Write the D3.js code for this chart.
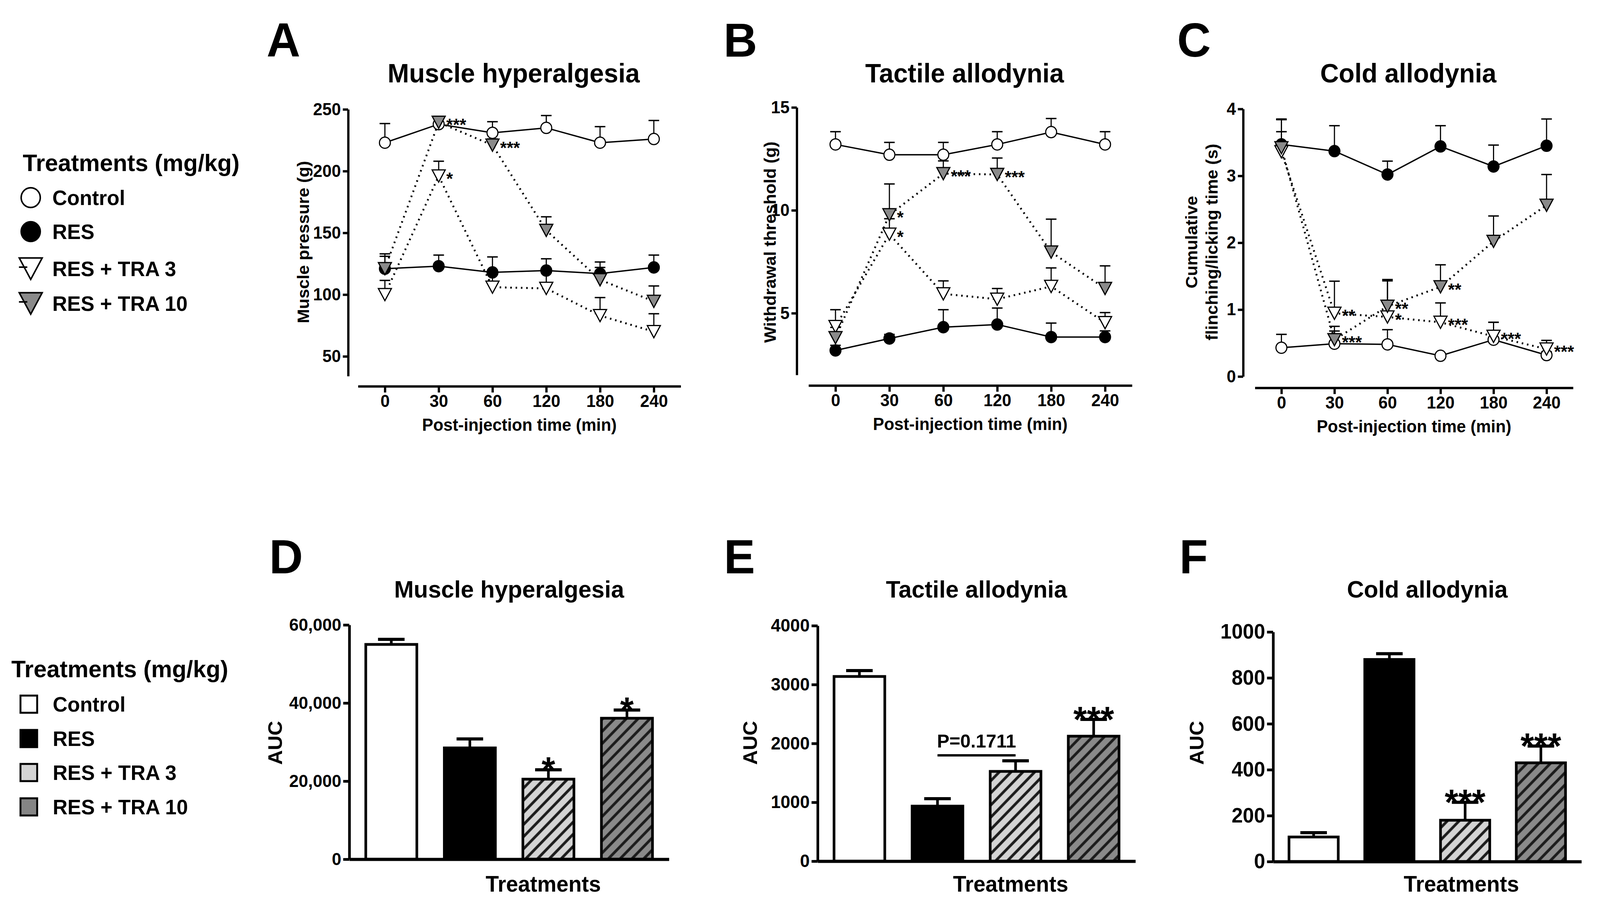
<!DOCTYPE html>
<html>
<head>
<meta charset="utf-8">
<script src="https://cdn.jsdelivr.net/npm/d3@7"></script>
<style>
  html, body { margin: 0; padding: 0; background: #fff; overflow: hidden; }
  svg { display: block; width: 100vw; height: 100vh; }
  text { font-family: "Liberation Sans", Arial, sans-serif; font-weight: bold; fill: #000; }
</style>
</head>
<body>
<svg id="chart" viewBox="0 0 4219 2330" preserveAspectRatio="none"></svg>
<script>
// ---- data ----
const timeLabels = ["0", "30", "60", "120", "180", "240"];
const groupNames = ["Control", "RES", "RES + TRA 3", "RES + TRA 10"];

// A: muscle pressure (g), mean and SEM
const muscleControl = [223, 238, 231, 235, 223, 226];
const muscleControlSem = [15.5, 6, 9, 10, 13, 15];
const muscleRes = [121, 123, 118, 119.5, 117, 122];
const muscleResSem = [10, 9, 12.5, 9.5, 9.4, 10];
const muscleTra3 = [100, 196, 106, 105, 83, 70];
const muscleTra3Sem = [11.5, 12, 12, 14, 14.6, 14.5];
const muscleTra10 = [121, 239.5, 221, 152, 112, 94.5];
const muscleTra10Sem = [12, 4.5, 5, 11, 10, 12.5];
const muscleStars = [[3, 1, "***"], [3, 2, "***"], [2, 1, "*"]];

// B: withdrawal threshold (g)
const tactileControl = [13.2, 12.7, 12.7, 13.2, 13.8, 13.2];
const tactileControlSem = [0.62, 0.6, 0.6, 0.62, 0.66, 0.62];
const tactileRes = [3.19, 3.77, 4.32, 4.45, 3.84, 3.84];
const tactileResSem = [0.25, 0.2, 0.85, 0.8, 0.68, 0.3];
const tactileTra3 = [4.35, 8.84, 5.94, 5.68, 6.3, 4.54];
const tactileTra3Sem = [0.82, 0.75, 0.63, 0.52, 0.9, 0.49];
const tactileTra10 = [3.81, 9.78, 11.78, 11.74, 7.97, 6.2];
const tactileTra10Sem = [0.5, 1.5, 0.62, 0.8, 1.6, 1.1];
const tactileStars = [[3, 1, "*"], [2, 1, "*"], [3, 2, "***"], [3, 3, "***"]];

// C: cumulative flinching/licking time (s)
const coldControl = [0.43, 0.49, 0.48, 0.31, 0.55, 0.32];
const coldControlSem = [0.2, 0.19, 0.22, 0.03, 0.26, 0.05];
const coldRes = [3.47, 3.37, 3.02, 3.44, 3.14, 3.45];
const coldResSem = [0.38, 0.38, 0.2, 0.31, 0.32, 0.4];
const coldTra3 = [3.36, 0.945, 0.89, 0.81, 0.6, 0.41];
const coldTra3Sem = [0.3, 0.48, 0.54, 0.29, 0.21, 0.13];
const coldTra10 = [3.42, 0.55, 1.05, 1.34, 2.02, 2.56];
const coldTra10Sem = [0.42, 0.2, 0.4, 0.33, 0.38, 0.46];
const coldStars = [[2, 1, "**"], [3, 1, "***"], [3, 2, "**"], [2, 2, "*"],
                   [3, 3, "**"], [2, 3, "***"], [2, 4, "***"], [2, 5, "***"]];

// D-F: AUC per treatment
const muscleAuc = [55000, 28500, 20500, 36100];
const muscleAucSem = [1300, 2300, 2400, 2100];
const muscleAucStars = ["", "", "*", "*"];
const tactileAuc = [3137, 935, 1525, 2123];
const tactileAucSem = [100, 126, 180, 285];
const tactileAucStars = ["", "", "", "***"];
const coldAuc = [107, 880, 180, 430];
const coldAucSem = [19, 25, 78, 73];
const coldAucStars = ["", "", "***", "***"];
const tactileBracket = ["RES", "RES + TRA 3", 1798, "P=0.1711"];

// ---- drawing ----
const svg = d3.select("#chart");
svg.append("rect").attr("width", 4219).attr("height", 2330).attr("fill", "#fff");

const defs = svg.append("defs");
function hatch(id, bg, ink) {
  const p = defs.append("pattern").attr("id", id)
    .attr("patternUnits", "userSpaceOnUse")
    .attr("width", 22).attr("height", 22)
    .attr("patternTransform", "rotate(45)");
  p.append("rect").attr("width", 22).attr("height", 22).attr("fill", bg);
  p.append("line").attr("x1", 5).attr("x2", 5).attr("y1", 0).attr("y2", 22)
    .attr("stroke", ink).attr("stroke-width", 7);
}
hatch("hatchLight", "#d4d4d4", "#1c1c1c");
hatch("hatchDark", "#8a8a8a", "#1c1c1c");

const markerStyle = {
  "Control":      { shape: "circle",   fill: "#fff",    dash: null },
  "RES":          { shape: "circle",   fill: "#000",    dash: null },
  "RES + TRA 3":  { shape: "triangle", fill: "#fff",    dash: "4,10" },
  "RES + TRA 10": { shape: "triangle", fill: "#8a8a8a", dash: "4,10" }
};
const barFill = {
  "Control": "#fff", "RES": "#000",
  "RES + TRA 3": "url(#hatchLight)", "RES + TRA 10": "url(#hatchDark)"
};

function marker(g, st, cx, cy, s, sw) {
  if (st.shape === "circle") {
    g.append("circle").attr("cx", cx).attr("cy", cy).attr("r", s * 0.45)
      .attr("fill", st.fill).attr("stroke", "#000").attr("stroke-width", sw);
  } else {
    const w = s * 1.08, h = s * 0.98;
    g.append("path")
      .attr("d", `M${cx - w / 2},${cy - h / 2}L${cx + w / 2},${cy - h / 2}L${cx},${cy + h / 2}Z`)
      .attr("fill", st.fill).attr("stroke", "#000").attr("stroke-width", sw)
      .attr("stroke-linejoin", "miter");
  }
}

function styleAxis(a, size, width) {
  a.selectAll("path, line").attr("stroke", "#000").attr("stroke-width", width);
  a.selectAll("text").attr("font-size", size).attr("font-weight", "bold")
    .attr("font-family", '"Liberation Sans", Arial, sans-serif').attr("fill", "#000");
}

function label(g, x, y, txt, size, anchor, rot) {
  const t = g.append("text").attr("font-size", size).attr("text-anchor", anchor || "middle").text(txt);
  if (rot) t.attr("transform", `translate(${x},${y}) rotate(-90)`);
  else t.attr("x", x).attr("y", y);
  return t;
}

function linePanel(p) {
  const g = svg.append("g");
  const x = d3.scalePoint().domain(timeLabels).range([p.xStart, p.xEnd]).padding(0.5);
  const y = d3.scaleLinear().domain(p.yDomain).range([p.yBottom, p.yTop]);

  const ya = g.append("g").attr("transform", `translate(${p.yAxisX},0)`)
    .call(d3.axisLeft(y).tickValues(p.yTicks).tickFormat(d3.format("d"))
      .tickSize(14).tickPadding(5).tickSizeOuter(0));
  styleAxis(ya, 44, 6);
  const xa = g.append("g").attr("transform", `translate(0,${p.xAxisY})`)
    .call(d3.axisBottom(x).tickSize(16).tickPadding(6).tickSizeOuter(0));
  styleAxis(xa, 44, 6);

  const line = d3.line().x((d, i) => x(timeLabels[i])).y(d => y(d));
  p.series.forEach(s => {
    const st = markerStyle[s.name];
    g.append("path").datum(s.mean).attr("d", line).attr("fill", "none")
      .attr("stroke", "#000").attr("stroke-width", st.dash ? 5 : 3.5)
      .attr("stroke-dasharray", st.dash);
  });
  p.series.forEach(s => {
    s.mean.forEach((m, i) => {
      const cx = x(timeLabels[i]), y0 = y(m), y1 = y(m + s.sem[i]);
      g.append("line").attr("x1", cx).attr("x2", cx).attr("y1", y0).attr("y2", y1)
        .attr("stroke", "#000").attr("stroke-width", 3);
      g.append("line").attr("x1", cx - 14).attr("x2", cx + 14).attr("y1", y1).attr("y2", y1)
        .attr("stroke", "#000").attr("stroke-width", 3.5);
    });
  });
  p.series.forEach(s => {
    s.mean.forEach((m, i) => marker(g, markerStyle[s.name], x(timeLabels[i]), y(m), 32, 3));
  });
  p.stars.forEach(([gi, ti, txt]) => {
    const s = p.series[gi];
    label(g, x(timeLabels[ti]) + 20, y(s.mean[ti]) + 22, txt, 45, "start");
  });

  label(g, p.letterX, 145, p.letter, 123, "start");
  label(g, (p.xStart + p.xEnd) / 2 - 15, 211, p.title, 68);
  label(g, (p.xStart + p.xEnd) / 2, p.xAxisY + 114, "Post-injection time (min)", 44);
  p.yLabel.forEach((t, i) => label(g, p.yLabelX[i], 620, t, 44, "middle", true));
}

function barPanel(p) {
  const g = svg.append("g");
  const x = d3.scaleBand().domain(groupNames).range([p.yAxisX, p.xEnd])
    .paddingInner(0.35).paddingOuter(0.21);
  const y = d3.scaleLinear().domain(p.yDomain).range([p.yBottom, p.yTop]);
  const bw = x.bandwidth();

  groupNames.forEach((n, i) => {
    const cx = x(n) + bw / 2, top = y(p.mean[i]), et = y(p.mean[i] + p.sem[i]);
    g.append("line").attr("x1", cx).attr("x2", cx).attr("y1", top).attr("y2", et)
      .attr("stroke", "#000").attr("stroke-width", 7);
    g.append("line").attr("x1", cx - 35).attr("x2", cx + 35).attr("y1", et).attr("y2", et)
      .attr("stroke", "#000").attr("stroke-width", 8);
    g.append("rect").attr("x", x(n)).attr("y", top).attr("width", bw)
      .attr("height", p.yBottom - top).attr("fill", barFill[n])
      .attr("stroke", "#000").attr("stroke-width", 7);
    if (p.stars[i]) label(g, cx, et + 32, p.stars[i], 92);
  });

  const ya = g.append("g").attr("transform", `translate(${p.yAxisX},0)`)
    .call(d3.axisLeft(y).tickValues(p.yTicks).tickFormat(p.fmt).tickSize(16).tickPadding(5).tickSizeOuter(0));
  styleAxis(ya, p.tickFont, 7);
  const xa = g.append("g").attr("transform", `translate(0,${p.yBottom})`)
    .call(d3.axisBottom(x).tickValues([]).tickSizeOuter(0));
  styleAxis(xa, 44, 8);

  if (p.bracket) {
    const [a, b, v, txt] = p.bracket;
    const by = y(v);
    g.append("line").attr("x1", x(a) + bw / 2).attr("x2", x(b) + bw / 2)
      .attr("y1", by).attr("y2", by).attr("stroke", "#000").attr("stroke-width", 6);
    label(g, (x(a) + x(b) + bw) / 2, by - 20, txt, 49);
  }

  label(g, p.letterX, 1468, p.letter, 123, "start");
  label(g, (p.yAxisX + p.xEnd) / 2, 1530, p.title, 62);
  label(g, (p.yAxisX + p.xEnd) / 2 + 90, 2283, "Treatments", 57);
  label(g, p.aucX, 1902, "AUC", 52, "middle", true);
}

function series(c, cs, r, rs, t3, t3s, t10, t10s) {
  return [
    { name: "Control", mean: c, sem: cs },
    { name: "RES", mean: r, sem: rs },
    { name: "RES + TRA 3", mean: t3, sem: t3s },
    { name: "RES + TRA 10", mean: t10, sem: t10s }
  ];
}

linePanel({
  letter: "A", letterX: 703, title: "Muscle hyperalgesia",
  yAxisX: 918, yTop: 280, yBottom: 963, xAxisY: 989, xStart: 944, xEnd: 1795,
  yDomain: [34, 250], yTicks: [50, 100, 150, 200, 250],
  yLabel: ["Muscle pressure (g)"], yLabelX: [815],
  series: series(muscleControl, muscleControlSem, muscleRes, muscleResSem,
                 muscleTra3, muscleTra3Sem, muscleTra10, muscleTra10Sem),
  stars: muscleStars
});
linePanel({
  letter: "B", letterX: 1908, title: "Tactile allodynia",
  yAxisX: 2101, yTop: 275, yBottom: 960, xAxisY: 987, xStart: 2132, xEnd: 2985,
  yDomain: [2, 15], yTicks: [5, 10, 15],
  yLabel: ["Withdrawal threshold (g)"], yLabelX: [2046],
  series: series(tactileControl, tactileControlSem, tactileRes, tactileResSem,
                 tactileTra3, tactileTra3Sem, tactileTra10, tactileTra10Sem),
  stars: tactileStars
});
linePanel({
  letter: "C", letterX: 3104, title: "Cold allodynia",
  yAxisX: 3278, yTop: 279, yBottom: 964, xAxisY: 993, xStart: 3309, xEnd: 4148,
  yDomain: [0, 4], yTicks: [0, 1, 2, 3, 4],
  yLabel: ["Cumulative", "flinching/licking time (s)"], yLabelX: [3157, 3211],
  series: series(coldControl, coldControlSem, coldRes, coldResSem,
                 coldTra3, coldTra3Sem, coldTra10, coldTra10Sem),
  stars: coldStars
});

barPanel({
  letter: "D", letterX: 710, title: "Muscle hyperalgesia",
  yAxisX: 921, yTop: 1600, yBottom: 2200, xEnd: 1764,
  yDomain: [0, 60000], yTicks: [0, 20000, 40000, 60000], fmt: d3.format(","), tickFont: 45,
  mean: muscleAuc, sem: muscleAucSem, stars: muscleAucStars, aucX: 744
});
barPanel({
  letter: "E", letterX: 1909, title: "Tactile allodynia",
  yAxisX: 2156, yTop: 1602, yBottom: 2205, xEnd: 2994,
  yDomain: [0, 4000], yTicks: [0, 1000, 2000, 3000, 4000], fmt: d3.format("d"), tickFont: 46,
  mean: tactileAuc, sem: tactileAucSem, stars: tactileAucStars, aucX: 1996,
  bracket: tactileBracket
});
barPanel({
  letter: "F", letterX: 3110, title: "Cold allodynia",
  yAxisX: 3357, yTop: 1618, yBottom: 2206, xEnd: 4170,
  yDomain: [0, 1000], yTicks: [0, 200, 400, 600, 800, 1000], fmt: d3.format("d"), tickFont: 53,
  mean: coldAuc, sem: coldAucSem, stars: coldAucStars, aucX: 3174
});

// legends
const legTop = svg.append("g");
label(legTop, 60, 438, "Treatments (mg/kg)", 62, "start");
[506, 593, 688, 777].forEach((cy, i) => {
  const st = markerStyle[groupNames[i]];
  marker(legTop, st, 81, cy, 56, 4);
  if (st.shape === "triangle") {
    legTop.append("line").attr("x1", 50).attr("x2", 72).attr("y1", cy - 4).attr("y2", cy - 4)
      .attr("stroke", "#000").attr("stroke-width", 4);
  }
  label(legTop, 138, cy + 19, groupNames[i], 54, "start");
});

const legBottom = svg.append("g");
label(legBottom, 30, 1734, "Treatments (mg/kg)", 62, "start");
const legFill = ["#fff", "#000", "#d4d4d4", "#858585"];
[1803, 1891, 1978, 2066].forEach((cy, i) => {
  legBottom.append("rect").attr("x", 54).attr("y", cy - 22).attr("width", 44).attr("height", 44)
    .attr("fill", legFill[i]).attr("stroke", "#000").attr("stroke-width", 5);
  label(legBottom, 139, cy + 19, groupNames[i], 54, "start");
});
</script>
</body>
</html>
